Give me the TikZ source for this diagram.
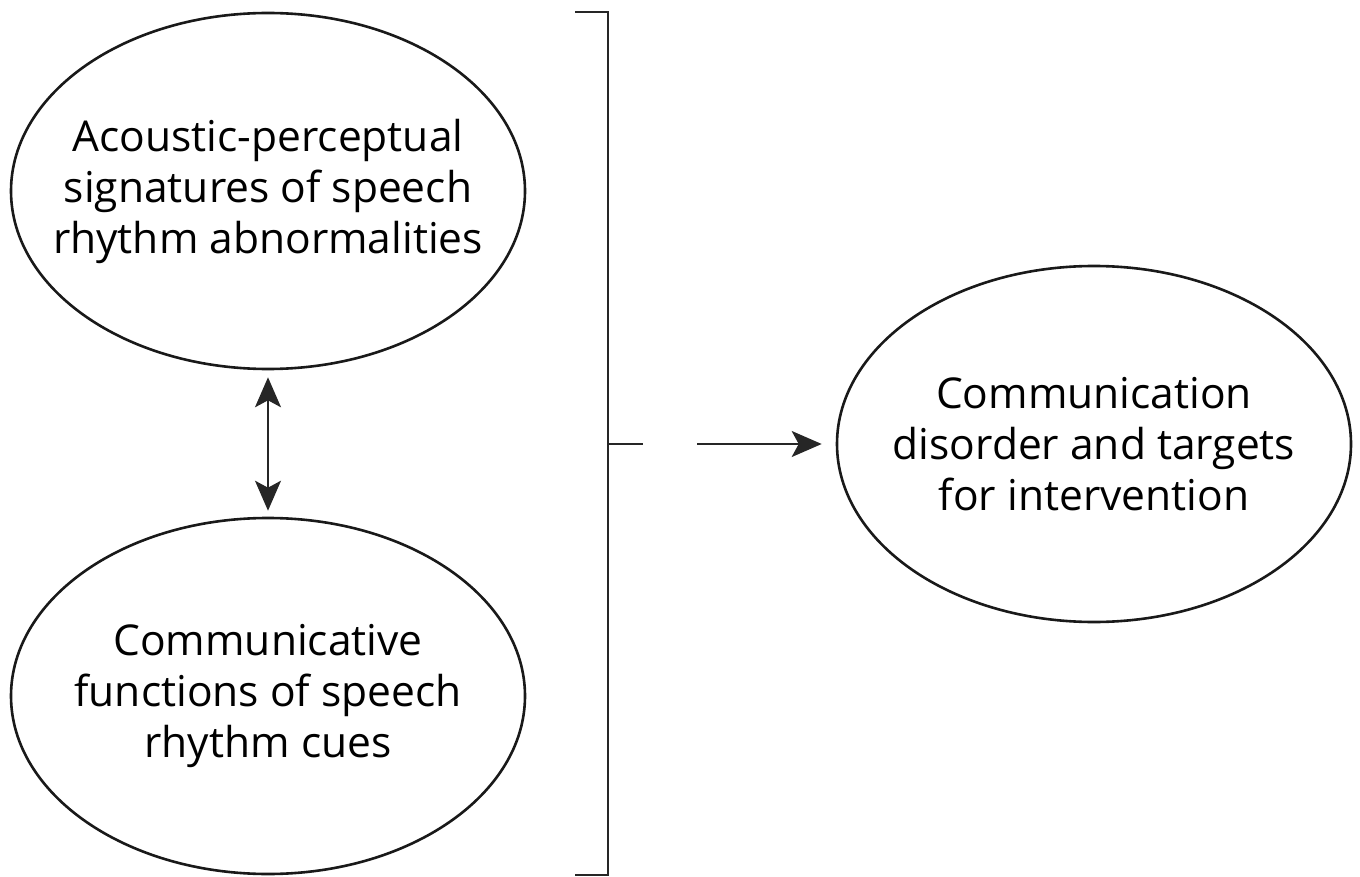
\documentclass[tikz,border=0pt]{standalone}
\usepackage{fontspec}
\setmainfont{Open Sans}
\usetikzlibrary{shapes.geometric,arrows.meta}
\tikzset{mytip/.tip={Stealth[length=30pt,width=26pt,inset=7pt]}}
\begin{document}
\begin{tikzpicture}
[x=1pt,y=-1pt,
myellipse/.style={ellipse,draw=black!90,line width=2.6pt,inner sep=0pt,minimum width=514pt,minimum height=356pt},
mytext/.style={align=center,inner sep=0pt,font=\fontsize{42.5}{51}\selectfont},
myline/.style={draw=black!85,line width=2pt},
myarrow/.style={myline,-mytip}]
\useasboundingbox (0,0) rectangle (1360,877);
\node (acoustic) at (268,191) [myellipse] {};
\node (functions) at (268,696) [myellipse] {};
\node (disorder) at (1094,444) [myellipse] {};
\node (acoustictext) at (acoustic) [mytext] {Acoustic-perceptual\\signatures of speech\\rhythm abnormalities};
\node (functionstext) at (functions) [mytext] {Communicative\\functions of speech\\rhythm cues};
\node (disordertext) at (disorder) [mytext] {Communication\\disorder and targets\\for intervention};
\coordinate (btop) at (575,12);
\coordinate (bbot) at (575,875);
\coordinate (bmid) at (608,444);
\coordinate (tick) at (643,444);
\coordinate (start) at (697,444);
\draw [myline] (btop) -- (608,12) -- (608,875) -- (bbot);
\draw [myline] (bmid) -- (tick);
\draw [myarrow,shorten >=14pt] (start) -- (disorder.west);
\draw [myline,mytip-mytip,shorten <=7pt,shorten >=6pt] (acoustic.south) -- (functions.north);

\end{tikzpicture}
\end{document}
